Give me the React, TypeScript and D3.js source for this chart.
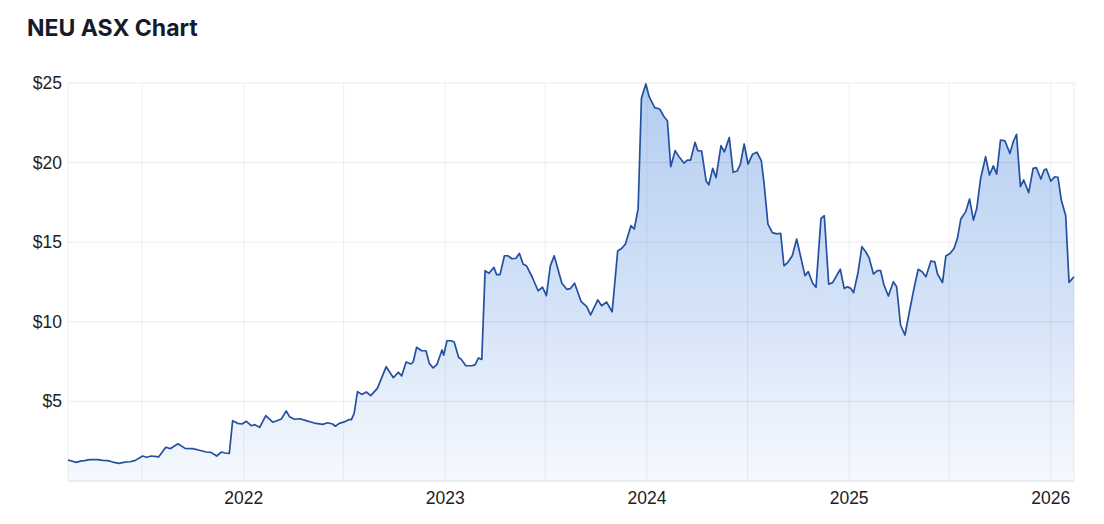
import React from 'react';
import * as d3 from 'd3';

const WIDTH = 1104;
const HEIGHT = 524;
const MARGIN = { top: 83, right: 30, bottom: 43, left: 68 };

const TITLE = 'NEU ASX Chart';

// weekly-ish closing prices
const dates2021 = [
  '2021-02-17', '2021-03-04', '2021-03-13', '2021-03-19', '2021-03-28', '2021-04-12', '2021-04-21', '2021-04-30',
  '2021-05-09', '2021-05-20', '2021-05-31', '2021-06-09', '2021-06-18', '2021-07-02', '2021-07-09', '2021-07-18',
  '2021-07-31', '2021-08-13', '2021-08-21', '2021-09-04', '2021-09-17', '2021-10-01', '2021-10-13', '2021-10-25',
  '2021-11-03', '2021-11-13', '2021-11-22', '2021-11-28', '2021-12-06', '2021-12-12', '2021-12-21', '2021-12-29',
];
const prices2021 = [
  1.32, 1.17, 1.26, 1.28, 1.34, 1.34, 1.3, 1.28,
  1.19, 1.11, 1.19, 1.21, 1.28, 1.57, 1.49, 1.57,
  1.51, 2.12, 2.03, 2.34, 2.05, 2.03, 1.93, 1.82,
  1.8, 1.57, 1.82, 1.76, 1.74, 3.79, 3.62, 3.58,
];

const dates2022 = [
  '2022-01-06', '2022-01-15', '2022-01-21', '2022-01-30', '2022-02-10', '2022-02-23', '2022-03-10', '2022-03-19',
  '2022-03-25', '2022-04-03', '2022-04-13', '2022-04-24', '2022-05-09', '2022-05-24', '2022-06-02', '2022-06-11',
  '2022-06-16', '2022-06-23', '2022-07-02', '2022-07-10', '2022-07-15', '2022-07-20', '2022-07-26', '2022-08-03',
  '2022-08-11', '2022-08-19', '2022-08-31', '2022-09-16', '2022-09-29', '2022-10-08', '2022-10-14', '2022-10-22',
  '2022-10-31', '2022-11-04', '2022-11-10', '2022-11-19', '2022-11-27', '2022-12-03', '2022-12-10', '2022-12-17',
  '2022-12-26', '2022-12-29',
];
const prices2022 = [
  3.75, 3.47, 3.54, 3.37, 4.1, 3.69, 3.89, 4.4,
  4.04, 3.88, 3.91, 3.79, 3.64, 3.56, 3.66, 3.58,
  3.44, 3.62, 3.71, 3.85, 3.85, 4.25, 5.61, 5.44,
  5.59, 5.36, 5.82, 7.18, 6.49, 6.83, 6.6, 7.47,
  7.35, 7.49, 8.4, 8.18, 8.18, 7.39, 7.1, 7.33,
  8.23, 7.91,
];

const dates2023 = [
  '2023-01-04', '2023-01-12', '2023-01-17', '2023-01-25', '2023-01-30', '2023-02-07', '2023-02-19', '2023-02-24',
  '2023-03-02', '2023-03-08', '2023-03-14', '2023-03-21', '2023-03-30', '2023-04-04', '2023-04-10', '2023-04-18',
  '2023-04-24', '2023-05-02', '2023-05-09', '2023-05-15', '2023-05-22', '2023-05-28', '2023-06-07', '2023-06-18',
  '2023-06-26', '2023-07-03', '2023-07-10', '2023-07-17', '2023-07-31', '2023-08-09', '2023-08-15', '2023-08-23',
  '2023-09-04', '2023-09-14', '2023-09-21', '2023-10-04', '2023-10-11', '2023-10-20', '2023-10-30', '2023-11-09',
  '2023-11-16', '2023-11-23', '2023-12-03', '2023-12-09', '2023-12-16', '2023-12-22', '2023-12-30',
];
const prices2023 = [
  8.81, 8.81, 8.73, 7.77, 7.64, 7.24, 7.24, 7.31,
  7.73, 7.64, 13.21, 13.05, 13.42, 12.96, 12.96, 14.15,
  14.15, 13.96, 13.99, 14.3, 13.61, 13.52, 12.83, 11.95,
  12.17, 11.64, 13.5, 14.15, 12.42, 12.04, 12.08, 12.42,
  11.26, 10.95, 10.43, 11.37, 11.01, 11.24, 10.63, 14.45,
  14.6, 14.88, 16.04, 15.83, 17.09, 24.04, 24.94,
];

const dates2024 = [
  '2024-01-05', '2024-01-15', '2024-01-24', '2024-02-01', '2024-02-07', '2024-02-13', '2024-02-21', '2024-02-28',
  '2024-03-08', '2024-03-14', '2024-03-20', '2024-03-28', '2024-04-02', '2024-04-09', '2024-04-17', '2024-04-22',
  '2024-04-29', '2024-05-05', '2024-05-14', '2024-05-20', '2024-05-29', '2024-06-05', '2024-06-12', '2024-06-18',
  '2024-06-25', '2024-07-02', '2024-07-10', '2024-07-18', '2024-07-26', '2024-07-31', '2024-08-07', '2024-08-15',
  '2024-08-23', '2024-08-30', '2024-09-05', '2024-09-12', '2024-09-20', '2024-09-28', '2024-10-13', '2024-10-19',
  '2024-10-27', '2024-11-02', '2024-11-11', '2024-11-17', '2024-11-25', '2024-12-02', '2024-12-16', '2024-12-23',
  '2024-12-29',
];
const prices2024 = [
  24.14, 23.45, 23.37, 22.88, 22.63, 19.74, 20.75, 20.37,
  19.97, 20.16, 20.16, 21.27, 20.75, 20.73, 18.86, 18.61,
  19.64, 19.05, 21.06, 20.67, 21.57, 19.39, 19.47, 19.89,
  21.17, 19.91, 20.52, 20.65, 20.12, 18.7, 16.14, 15.6,
  15.52, 15.56, 13.52, 13.74, 14.15, 15.2, 12.9, 13.15,
  12.42, 12.17, 16.5, 16.66, 12.36, 12.46, 13.3, 12.1,
  12.2,
];

const dates2025 = [
  '2025-01-04', '2025-01-09', '2025-01-17', '2025-01-24', '2025-01-31', '2025-02-06', '2025-02-14', '2025-02-21',
  '2025-02-27', '2025-03-05', '2025-03-13', '2025-03-22', '2025-03-28', '2025-04-04', '2025-04-12', '2025-04-20',
  '2025-04-29', '2025-05-06', '2025-05-13', '2025-05-20', '2025-05-29', '2025-06-05', '2025-06-10', '2025-06-19',
  '2025-06-25', '2025-07-03', '2025-07-10', '2025-07-16', '2025-07-22', '2025-07-31', '2025-08-07', '2025-08-14',
  '2025-08-20', '2025-08-27', '2025-09-05', '2025-09-12', '2025-09-19', '2025-09-25', '2025-10-02', '2025-10-10',
  '2025-10-19', '2025-10-25', '2025-10-31', '2025-11-07', '2025-11-13', '2025-11-22', '2025-11-30', '2025-12-06',
  '2025-12-14', '2025-12-20', '2025-12-24',
];
const prices2025 = [
  12.1, 11.83, 13.08, 14.72, 14.4, 14.03, 13.0, 13.21,
  13.21, 12.31, 11.62, 12.52, 12.2, 9.8, 9.17, 10.63,
  12.2, 13.3, 13.15, 12.83, 13.82, 13.76, 13.0, 12.46,
  14.13, 14.3, 14.62, 15.24, 16.44, 16.92, 17.71, 16.39,
  17.13, 19.01, 20.37, 19.22, 19.79, 19.28, 21.42, 21.36,
  20.58, 21.31, 21.78, 18.49, 18.91, 18.11, 19.64, 19.68,
  18.97, 19.54, 19.6,
];

const dates2026 = ['2026-01-01', '2026-01-08', '2026-01-14', '2026-01-20', '2026-01-28', '2026-02-03', '2026-02-12'];
const prices2026 = [18.84, 19.11, 19.08, 17.65, 16.66, 12.48, 12.83];

const yTicks = [5, 10, 15, 20, 25];
const yearTicks = ['2022', '2023', '2024', '2025', '2026'];

const parse = d3.timeParse('%Y-%m-%d');

type Point = { date: Date; price: number };

const allDates = [...dates2021, ...dates2022, ...dates2023, ...dates2024, ...dates2025, ...dates2026];
const allPrices = [...prices2021, ...prices2022, ...prices2023, ...prices2024, ...prices2025, ...prices2026];
const data: Point[] = allDates.map((d, i) => ({ date: parse(d) as Date, price: allPrices[i] }));

export default function App() {
  const boundsWidth = WIDTH - MARGIN.left - MARGIN.right;
  const boundsHeight = HEIGHT - MARGIN.top - MARGIN.bottom;

  const xScale = d3
    .scaleTime()
    .domain(d3.extent(data, (d) => d.date) as [Date, Date])
    .range([0, boundsWidth]);
  const yScale = d3.scaleLinear().domain([0, 25]).range([boundsHeight, 0]);

  const line = d3
    .line<Point>()
    .x((d) => xScale(d.date))
    .y((d) => yScale(d.price));
  const area = d3
    .area<Point>()
    .x((d) => xScale(d.date))
    .y0(boundsHeight)
    .y1((d) => yScale(d.price));

  // half-year gridlines, labels only on Jan 1
  const halfYears = d3.timeMonth.every(6)!.range(xScale.domain()[0], xScale.domain()[1]);

  return (
    <svg
      width={WIDTH}
      height={HEIGHT}
      style={{ position: 'absolute', left: 0, top: 0, display: 'block', background: '#fff' }}
    >
      <defs>
        <linearGradient id="fillGrad" gradientUnits="userSpaceOnUse" x1={0} y1={0} x2={0} y2={boundsHeight}>
          <stop offset="0%" stopColor="#b4cdf1" />
          <stop offset="55%" stopColor="#d3e2f7" />
          <stop offset="100%" stopColor="#f6f9fe" />
        </linearGradient>
      </defs>
      <text x={27} y={36} fontFamily="Inter, 'Noto Sans', sans-serif" fontWeight={700} fontSize={23} fill="#161b2b">
        {TITLE}
      </text>
      <g transform={`translate(${MARGIN.left},${MARGIN.top})`}>
        <path d={area(data) || ''} fill="url(#fillGrad)" />
        {yTicks.map((t) => (
          <line key={t} x1={0} x2={boundsWidth} y1={yScale(t)} y2={yScale(t)} stroke="#000" strokeOpacity={0.08} />
        ))}
        {halfYears.map((d, i) => (
          <line
            key={i}
            x1={xScale(d)}
            x2={xScale(d)}
            y1={0}
            y2={boundsHeight}
            stroke="#000"
            strokeOpacity={0.06}
          />
        ))}
        <line x1={0} x2={0} y1={0} y2={boundsHeight} stroke="#000" strokeOpacity={0.07} />
        <line x1={boundsWidth} x2={boundsWidth} y1={0} y2={boundsHeight} stroke="#000" strokeOpacity={0.07} />
        <line x1={0} x2={boundsWidth} y1={boundsHeight} y2={boundsHeight} stroke="#dcdcdc" />
        <path d={line(data) || ''} fill="none" stroke="#2450a0" strokeWidth={1.7} strokeLinejoin="round" />
        {yTicks.map((t) => (
          <text
            key={t}
            x={-6}
            y={yScale(t)}
            textAnchor="end"
            dominantBaseline="central"
            fontFamily="'Liberation Sans', Arial, sans-serif"
            fontSize={17.5}
            fill="#222"
          >
            {`$${t}`}
          </text>
        ))}
        {yearTicks.map((y) => (
          <text
            key={y}
            x={xScale(parse(`${y}-01-01`) as Date)}
            y={boundsHeight + 17}
            textAnchor="middle"
            dominantBaseline="central"
            fontFamily="'Liberation Sans', Arial, sans-serif"
            fontSize={17.5}
            fill="#222"
          >
            {y}
          </text>
        ))}
      </g>
    </svg>
  );
}
